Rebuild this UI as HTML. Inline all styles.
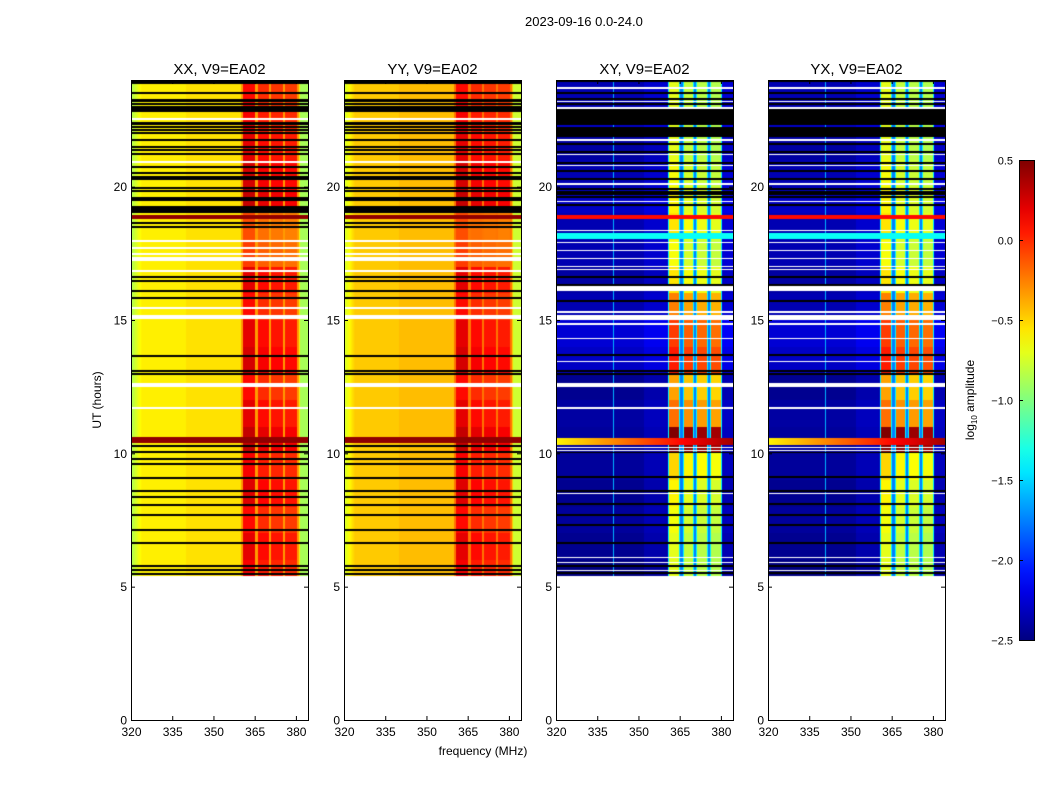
<!DOCTYPE html>
<html><head><meta charset="utf-8"><style>
body{margin:0;background:#fff;width:1050px;height:800px;position:relative;overflow:hidden;font-family:"Liberation Sans","DejaVu Sans",sans-serif;}
.t{position:absolute;font-size:13px;color:#000;white-space:nowrap}
canvas{position:absolute}
</style></head><body>
<div class="t" style="left:525px;top:14px;font-size:13px">2023-09-16 0.0-24.0</div>
<svg id="ov" width="1050" height="800" style="position:absolute;left:0;top:0"></svg>
<script>
// ---- data ----
const panelTitles = ["XX, V9=EA02","YY, V9=EA02","XY, V9=EA02","YX, V9=EA02"];
const xTicks = [320,335,350,365,380];
const yTicks = [0,5,10,15,20];
const cbTicks = [0.5,0.0,-0.5,-1.0,-1.5,-2.0,-2.5];
const rfiBands = [[360.7,365.1],[366.2,370.2],[370.9,375.3],[376.0,380.4]];
const bandOffset = [0.1,0.0,-0.03,-0.05];
const dataStartHour = 5.4;
// band level by integer hour (5..23)
const autoBandLevel = [0.05,0.1,0.0,0.12,0.05,0.2,0.1,0.0,0.15,0.1,0.0,0.1,-0.15,-0.2,0.2,0.15,0.1,0.05,0.0];
const crossBandLevel = [-0.8,-0.8,-0.75,-0.7,-0.6,0.45,-0.3,-0.45,-0.05,-0.15,-0.35,-0.65,-0.75,-0.65,-0.7,-0.75,-0.8,-0.8,-0.8];
const crossBase = [-2.5,-2.45,-2.42,-2.45,-2.42,-2.42,-2.4,-2.45,-2.3,-2.25,-2.35,-2.4,-2.35,-2.35,-2.3,-2.35,-2.4,-2.3,-2.35];
const autoBaseLevel = [-0.58,-0.47];
// flagged rows (hours)
const autoBlack = [23.52,23.1,22.99,22.91,22.84,22.24,22.13,22.01,21.75,21.49,21.38,20.74,20.51,20.36,20.29,19.95,19.84,18.64,18.49,16.61,16.46,16.09,15.83,13.65,13.1,12.98,10.27,10.05,9.8,9.6,9.07,8.6,8.35,8.05,7.7,7.12,6.63,5.78,5.62,5.47,23.95,23.88];
const autoBlackRanges = [[23.18,23.29],[22.31,22.42],[21.19,21.26],[19.46,19.61],[19.01,19.28]];
const autoWhite = [22.54,20.93,17.96,17.7,17.48,17.33,17.25,16.84,15.45,11.7];
const autoWhiteRanges = [[15.04,15.2],[12.5,12.62]];
const autoRed = [[18.79,18.94],[10.4,10.62]];
const crossBlack = [23.95,23.5,23.3,23.1,22.2,21.9,21.6,21.3,20.9,20.6,20.3,19.9,19.6,19.3,16.6,16.3,15.7,13.7,13.1,12.98,10.03,9.1,8.6,8.1,7.7,7.3,6.63,5.78,5.5];
const crossBlackRanges = [[22.3,22.9],[21.95,22.15],[19.7,19.85]];
const crossWhite = [23.7,23.2,22.95,21.75,21.2,20.8,20.1,19.45,18.35,17.9,17.6,17.3,17.0,16.9,15.3,14.85,14.3,13.45,11.7,10.22,10.1,8.5,8.1,6.1,5.9,5.6];
const crossWhiteRanges = [[16.1,16.35],[15.0,15.2],[12.5,12.62]];
const crossRed = [[18.8,18.95]];
const crossCyan = [[18.05,18.25]];
const crossHot = [[10.3,10.58]];
// ---- layout ----
const panelX = [131,344,556,768], pw=177, ptop=80, ph=640;
const fMin=320, fMax=384.4, hMax=24;
const xs = f => (f-fMin)/(fMax-fMin)*pw;
const ys = h => ph - h/hMax*ph;
const vmin=-2.5, vmax=0.5;
function jet(v){let t=(v-vmin)/(vmax-vmin);t=Math.max(0,Math.min(1,t));
 const c=x=>Math.round(255*Math.max(0,Math.min(1,x)));
 return [c(1.5-Math.abs(4*t-3)),c(1.5-Math.abs(4*t-2)),c(1.5-Math.abs(4*t-1))];}
const inR=(h,rs)=>rs.some(r=>h>=r[0]&&h<=r[1]);
const near=(h,ls,w)=>ls.some(l=>Math.abs(h-l)<w);
function bandIdx(f){for(let i=0;i<rfiBands.length;i++){if(f>=rfiBands[i][0]&&f<=rfiBands[i][1])return i;}return -1;}
function value(p,h,f){
 const cross=p>=2; const hi=Math.max(0,Math.min(18,Math.floor(h)-5));
 const bi=bandIdx(f);
 if(!cross){
  if(inR(h,autoRed))return 0.45;
  let base=autoBaseLevel[p];
  if(f<324)base-=(324-f)/4*0.3;
  if(f>381.5)base-=0.3;
  if(bi>=0)return autoBandLevel[hi]+bandOffset[bi];
  if(f>360&&f<381)return base+0.25;
  if(f>340&&f<360)base+=0.04;
  return base;
 } else {
  if(inR(h,crossRed))return 0.1;
  if(inR(h,crossCyan))return -1.35;
  if(inR(h,crossHot))return -0.6+(f-fMin)/(fMax-fMin)*1.0;
  if(bi>=0){const b=rfiBands[bi];if(f-b[0]<0.3||b[1]-f<0.3)return -1.4;return crossBandLevel[hi]+bandOffset[bi];}
  if(f>360.7&&f<380.4)return -1.75;
  let base=crossBase[hi];
  if(f>352&&f<361)base+=0.08;
  if(f>380.4)base+=0.1;
  if(Math.abs(f-341)<0.25)base=-1.6;
  return base;
 }
}
const NS='http://www.w3.org/2000/svg';
for(let p=0;p<4;p++){
 const cv=document.createElement('canvas');cv.width=pw;cv.height=ph;
 cv.style.left=panelX[p]+'px';cv.style.top=ptop+'px';
 
 
 document.body.appendChild(cv);
 const ctx=cv.getContext('2d');const img=ctx.createImageData(pw,ph);
 const cross=p>=2;
 for(let y=0;y<ph;y++){
  const h=(ph-y-0.5)/ph*hMax;
  let mode='data';
  if(h<dataStartHour)mode='white';
  else if(cross){ if(near(h,crossBlack,0.035)||inR(h,crossBlackRanges))mode='black'; else if(near(h,crossWhite,0.03)||inR(h,crossWhiteRanges))mode='white';}
  else { if(near(h,autoBlack,0.035)||inR(h,autoBlackRanges))mode='black'; else if(near(h,autoWhite,0.03)||inR(h,autoWhiteRanges))mode='white';}
  for(let x=0;x<pw;x++){
   const f=fMin+(x+0.5)/pw*(fMax-fMin);let c;
   if(mode==='white')c=[255,255,255];else if(mode==='black')c=[0,0,0];else c=jet(value(p,h,f));
   const k=(y*pw+x)*4;img.data[k]=c[0];img.data[k+1]=c[1];img.data[k+2]=c[2];img.data[k+3]=255;
  }
 }
 ctx.putImageData(img,0,0);
}
const ov=document.getElementById('ov');
document.body.appendChild(ov);
function el(tag,attrs,text){const e=document.createElementNS(NS,tag);for(const k in attrs)e.setAttribute(k,attrs[k]);if(text!==undefined)e.textContent=text;ov.appendChild(e);return e;}
for(let p=0;p<4;p++){
 const x0=panelX[p];
 const fr=el('rect',{x:x0+0.5,y:ptop+0.5,width:pw,height:ph,fill:'none',stroke:'#000','stroke-width':1});
 
 
 const tt=el('text',{x:x0+pw/2,y:74,'text-anchor':'middle','font-size':15,'font-family':'Liberation Sans'},panelTitles[p]);
 
 
 xTicks.forEach(v=>{const X=x0+xs(v)+0.5;
  el('line',{x1:X,x2:X,y1:ptop+ph,y2:ptop+ph-4,stroke:'#000'});
  el('line',{x1:X,x2:X,y1:ptop,y2:ptop+4,stroke:'#000'});
  const t=el('text',{x:X,y:736,'text-anchor':'middle','font-size':12,'font-family':'Liberation Sans'},String(v));
  
  });
 yTicks.forEach(v=>{const Y=ptop+ys(v)+0.5;
  el('line',{x1:x0,x2:x0+4,y1:Y,y2:Y,stroke:'#000'});
  el('line',{x1:x0+pw,x2:x0+pw-4,y1:Y,y2:Y,stroke:'#000'});
  const t=el('text',{x:x0-4,y:Y+4,'text-anchor':'end','font-size':12,'font-family':'Liberation Sans'},String(v));
  
  });
}
const xl=el('text',{x:483,y:755,'text-anchor':'middle','font-size':12,'font-family':'Liberation Sans'},'frequency (MHz)');


const yl=el('text',{x:0,y:0,'text-anchor':'middle','font-size':12,'font-family':'Liberation Sans',transform:'translate(101,400) rotate(-90)'},'UT (hours)');


// colorbar
const cbx=1019,cbw=15,cby=160,cbh=480;
const defs=el('defs',{});
const g=document.createElementNS(NS,'linearGradient');g.setAttribute('id','cbg');g.setAttribute('x1',0);g.setAttribute('y1',1);g.setAttribute('x2',0);g.setAttribute('y2',0);defs.appendChild(g);
for(let i=0;i<=20;i++){const v=vmin+(vmax-vmin)*i/20;const c=jet(v);const s=document.createElementNS(NS,'stop');s.setAttribute('offset',i/20);s.setAttribute('stop-color','rgb('+c.join(',')+')');g.appendChild(s);}
const cb=el('rect',{x:cbx+0.5,y:cby+0.5,width:cbw,height:cbh,fill:'url(#cbg)',stroke:'#000'});


cbTicks.forEach(v=>{const Y=cby+(vmax-v)/(vmax-vmin)*cbh+0.5;
 el('line',{x1:cbx,x2:cbx+4,y1:Y,y2:Y,stroke:'#000'});
 const t=el('text',{x:cbx-6,y:Y+4,'text-anchor':'end','font-size':11,'font-family':'Liberation Sans'},v.toFixed(1).replace('-','\u2212'));
 
 });
const cl=el('text',{x:0,y:0,'text-anchor':'middle','font-size':12,'font-family':'Liberation Sans',transform:'translate(974,400) rotate(-90)'});
cl.innerHTML='log<tspan font-size="8" dy="3">10</tspan><tspan dy="-3"> amplitude</tspan>';


</script>
</body></html>
